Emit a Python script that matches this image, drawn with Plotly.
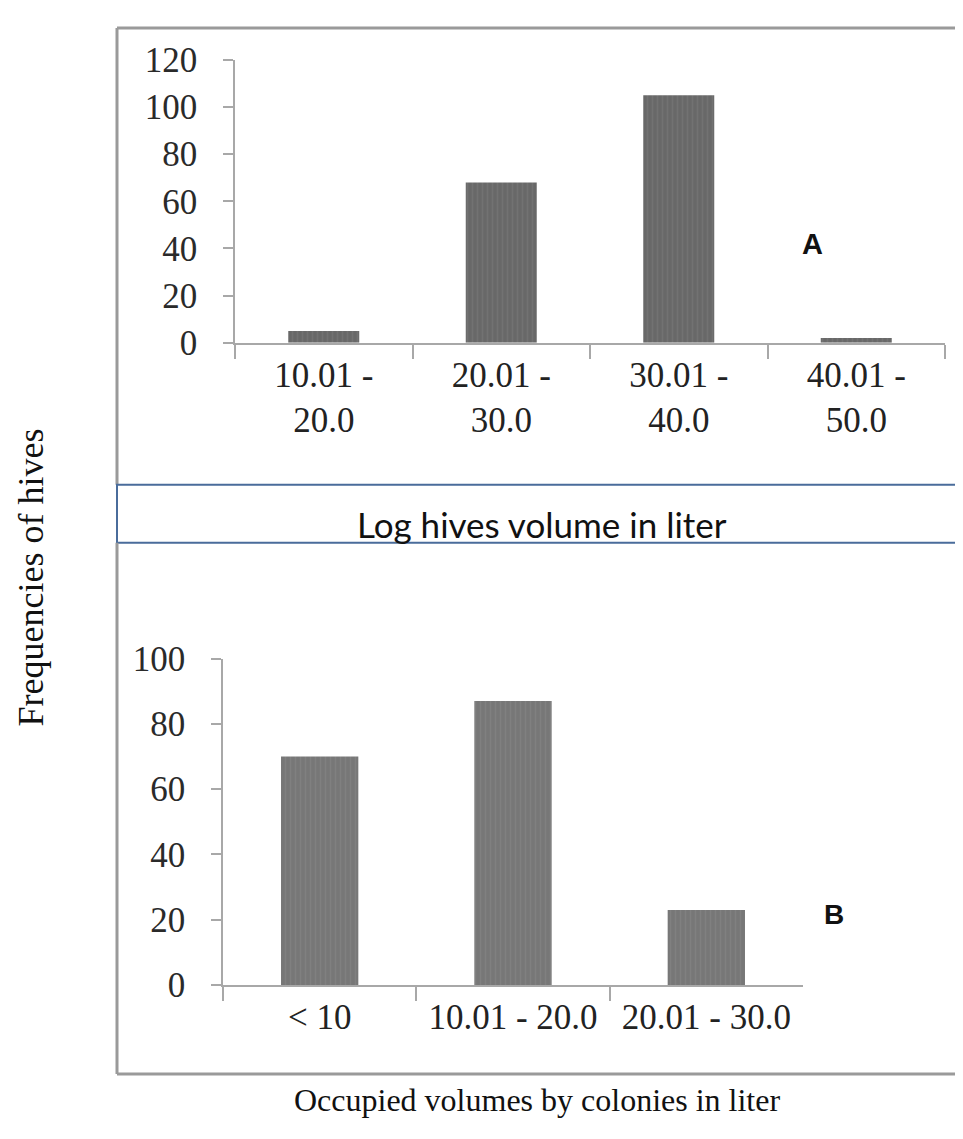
import plotly.graph_objects as go

W, H = 963, 1139
OFF = 8  # page body margin offset of the rendered figure

# ---- data ----
top_categories = ["10.01 -<br>20.0", "20.01 -<br>30.0", "30.01 -<br>40.0", "40.01 -<br>50.0"]
top_values = [5, 68, 105, 2]
top_y_ticks = [0, 20, 40, 60, 80, 100, 120]

bottom_categories = ["< 10", "10.01 - 20.0", "20.01 - 30.0"]
bottom_values = [70, 87, 23]
bottom_y_ticks = [0, 20, 40, 60, 80, 100]


def px_x(x):
    return (x - OFF) / W


def px_y(y):
    return 1 - (y - OFF) / H


AXIS_GRAY = "#a8a8a8"
SERIF = "Liberation Serif"

fig = go.Figure()
fig.add_trace(go.Bar(
    x=top_categories, y=top_values, xaxis="x", yaxis="y", width=0.4,
    marker=dict(color="#6b6b6b", line=dict(width=0),
                pattern=dict(shape="|", fgcolor="#7c7c7c", bgcolor="#686868", size=5, solidity=0.3)),
    hoverinfo="skip",
))
fig.add_trace(go.Bar(
    x=bottom_categories, y=bottom_values, xaxis="x2", yaxis="y2", width=0.4,
    marker=dict(color="#7a7a7a", line=dict(width=0),
                pattern=dict(shape="|", fgcolor="#8a8a8a", bgcolor="#777777", size=5, solidity=0.3)),
    hoverinfo="skip",
))

xcommon = dict(type="category", tickson="boundaries", ticks="outside", ticklen=14,
               tickcolor=AXIS_GRAY, tickwidth=1.5, showline=True, linecolor=AXIS_GRAY, linewidth=1.5,
               showgrid=False, zeroline=False,
               tickfont=dict(family=SERIF, size=35, color="#222222"))
ycommon = dict(ticks="outside", ticklen=10, tickcolor=AXIS_GRAY, tickwidth=1.5, showline=True,
               linecolor=AXIS_GRAY, linewidth=1.5, showgrid=False, zeroline=False,
               tickfont=dict(family=SERIF, size=35, color="#2a2a2a"), ticklabelstandoff=19)

fig.update_layout(
    width=W, height=H,
    margin=dict(l=0, r=0, t=0, b=0),
    paper_bgcolor="white", plot_bgcolor="white",
    showlegend=False,
    xaxis=dict(domain=[px_x(235), px_x(945)], anchor="y", **xcommon),
    yaxis=dict(domain=[px_y(335), px_y(42)], anchor="x", range=[0, 120], tickvals=top_y_ticks, **ycommon),
    xaxis2=dict(domain=[px_x(223), px_x(803)], anchor="y2", **xcommon),
    yaxis2=dict(domain=[px_y(1000), px_y(662)], anchor="x2", range=[0, 100], tickvals=bottom_y_ticks, **ycommon),
)

annotations = [
    dict(text="<b>A</b>", x=px_x(812), y=px_y(233), font=dict(family="Liberation Sans", size=29, color="#111")),
    dict(text="<b>B</b>", x=px_x(834), y=px_y(927), font=dict(family="Liberation Sans", size=28, color="#111")),
    dict(text="Log hives volume in liter", x=px_x(542), y=px_y(523),
         font=dict(family="Lato", size=35, color="#111")),
    dict(text="Occupied volumes by colonies in liter", x=px_x(537), y=px_y(1119),
         font=dict(family=SERIF, size=32, color="#111")),
    dict(text="Frequencies of hives", x=px_x(31), y=px_y(578), textangle=-90,
         font=dict(family=SERIF, size=36, color="#111")),
]
for a in annotations:
    a.update(xref="paper", yref="paper", xanchor="center", yanchor="middle", showarrow=False)
fig.update_layout(annotations=annotations)

BORDER = "#9a9a9a"
BLUE = "#4a6c9b"
shapes = [
    # top panel frame
    dict(type="line", x0=px_x(117), x1=px_x(980), y0=px_y(9), y1=px_y(9), line=dict(color=BORDER, width=3)),
    dict(type="line", x0=px_x(117), x1=px_x(117), y0=px_y(9), y1=px_y(482), line=dict(color=BORDER, width=3)),
    # label box
    dict(type="rect", x0=px_x(117), x1=px_x(985), y0=px_y(482), y1=px_y(542), line=dict(color=BLUE, width=2)),
    # bottom panel frame
    dict(type="line", x0=px_x(117), x1=px_x(117), y0=px_y(542), y1=px_y(1092), line=dict(color=BORDER, width=3)),
    dict(type="line", x0=px_x(117), x1=px_x(980), y0=px_y(1092), y1=px_y(1092), line=dict(color=BORDER, width=3)),
]
for s in shapes:
    s.update(xref="paper", yref="paper", layer="above")
fig.update_layout(shapes=shapes)

fig.write_html("out.html")
